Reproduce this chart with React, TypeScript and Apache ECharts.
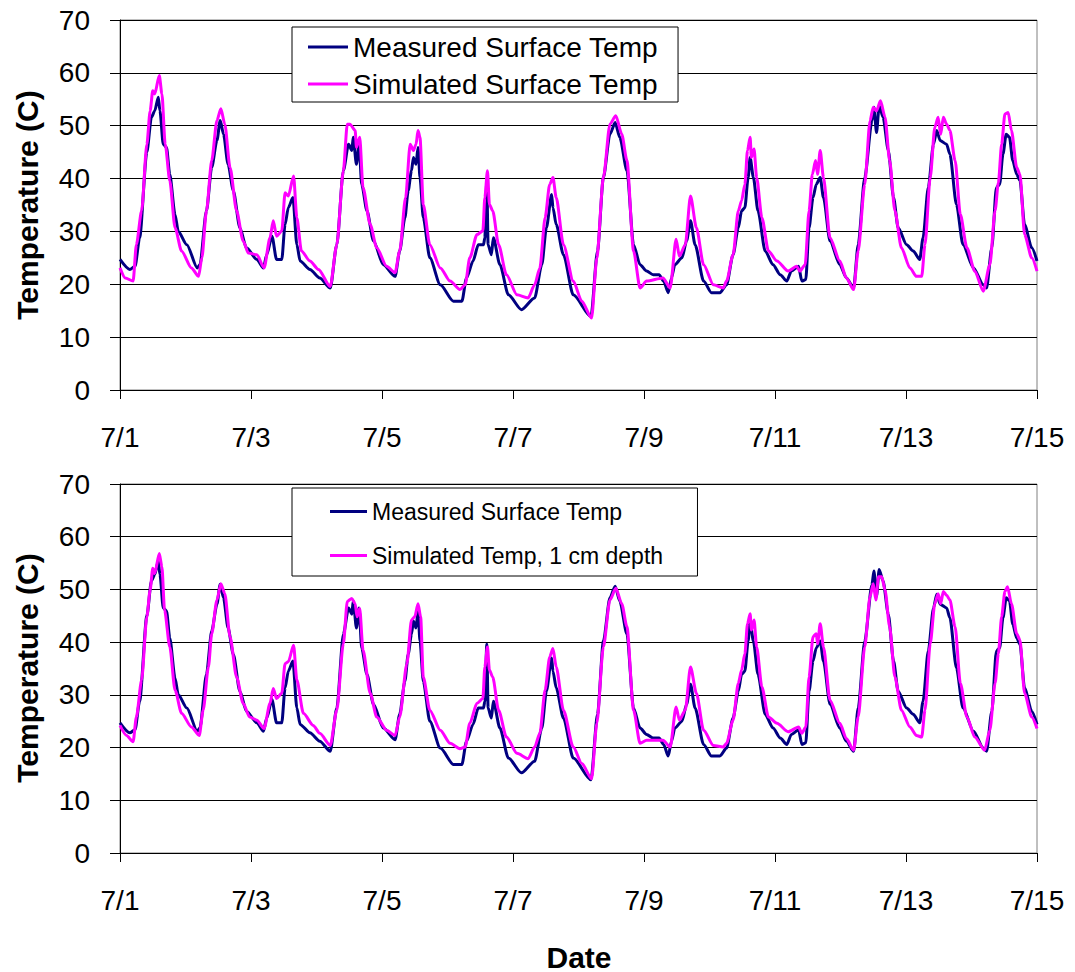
import React, { useEffect, useRef } from "react";
import * as echarts from "echarts";

// x = days since 7/1, y = temperature (C)
const measured: [number, number][] = [
  [0, 24.7], [0.15, 22.8], [0.23, 23.4], [0.3, 28.8], [0.41, 45], [0.48, 51.6], [0.53, 52.8], [0.585, 55.4], [0.61, 52.8], [0.66, 46.5], [0.71, 45.9], [0.76, 40.8], [0.84, 33.2], [0.89, 30], [1.02, 27.5], [1.18, 23.1], [1.22, 23.7], [1.32, 33.9], [1.4, 42.1], [1.48, 47.2], [1.53, 51], [1.58, 48.4], [1.65, 42.7], [1.73, 37.7], [1.83, 30.7], [1.93, 26.9], [2.09, 24.7], [2.19, 23.1], [2.24, 25.6], [2.32, 29.1], [2.39, 24.7], [2.47, 24.7], [2.52, 31.3], [2.57, 34.5], [2.64, 36.4], [2.7, 27.5], [2.75, 24.4], [2.9, 22.8], [3.05, 21.2], [3.21, 19.3], [3.31, 27.5], [3.41, 41.5], [3.49, 46.5], [3.54, 45.3], [3.56, 47.8], [3.61, 42.7], [3.65, 46.5], [3.69, 38.9], [3.77, 33.9], [3.87, 28.2], [4.02, 23.7], [4.2, 21.5], [4.27, 26.3], [4.35, 32.6], [4.4, 37.7], [4.45, 41.5], [4.48, 44], [4.52, 42.7], [4.55, 45.9], [4.58, 40.2], [4.63, 32.6], [4.73, 25], [4.89, 19.9], [5.09, 16.8], [5.22, 16.8], [5.29, 21.2], [5.39, 24.4], [5.47, 27.5], [5.55, 27.5], [5.57, 28.8], [5.6, 39.6], [5.62, 27.5], [5.67, 25.6], [5.7, 28.8], [5.8, 23.7], [5.93, 18], [6.13, 15.2], [6.33, 17.4], [6.44, 23.7], [6.51, 30.7], [6.59, 37], [6.61, 34.5], [6.66, 31.3], [6.77, 25.6], [6.92, 18], [7.19, 13.9], [7.29, 26.3], [7.38, 40.2], [7.48, 48.4], [7.56, 50.6], [7.63, 47.8], [7.74, 41.5], [7.84, 27.5], [7.94, 23.7], [8.04, 22.5], [8.14, 21.8], [8.23, 21.8], [8.3, 20.6], [8.37, 18.4], [8.42, 21.2], [8.47, 23.7], [8.58, 25], [8.65, 28.2], [8.71, 32], [8.78, 27.5], [8.91, 20.6], [9.03, 18.4], [9.16, 18.4], [9.26, 19.9], [9.36, 25.6], [9.44, 30.7], [9.49, 33.9], [9.54, 34.5], [9.59, 40.2], [9.62, 44], [9.67, 40.2], [9.74, 33.9], [9.85, 26.3], [9.97, 23.7], [10.08, 21.8], [10.18, 20.6], [10.25, 22.5], [10.36, 23.4], [10.41, 20.6], [10.47, 20.9], [10.52, 30.7], [10.58, 36.4], [10.63, 38.9], [10.69, 40.2], [10.74, 36.4], [10.84, 28.2], [10.99, 23.7], [11.09, 21.2], [11.2, 19.3], [11.27, 27.5], [11.37, 40.2], [11.48, 50.9], [11.51, 53.5], [11.55, 48.7], [11.59, 53.8], [11.65, 51.6], [11.73, 45.3], [11.81, 36.4], [11.88, 30.7], [12.01, 27.5], [12.11, 26.3], [12.21, 24.7], [12.26, 28.8], [12.34, 38.3], [12.42, 46.5], [12.47, 49.1], [12.52, 47.2], [12.62, 46.5], [12.67, 44.6], [12.77, 35.1], [12.87, 27.5], [13.03, 23.1], [13.18, 19.9], [13.23, 19.3], [13.31, 26.9], [13.38, 38.3], [13.43, 38.9], [13.48, 44.6], [13.53, 48.4], [13.58, 47.8], [13.63, 43.4], [13.69, 40.8], [13.74, 39.6], [13.81, 31.3], [13.92, 26.9], [14.0, 24.4],
];

const simulatedSurface: [number, number][] = [
  [0, 23.1], [0.08, 21.2], [0.2, 20.6], [0.25, 27.5], [0.33, 33.9], [0.41, 46.5], [0.46, 52.8], [0.5, 56.6], [0.53, 56], [0.6, 59.5], [0.64, 56], [0.69, 46.5], [0.76, 39.6], [0.84, 30.7], [0.94, 26.3], [1.09, 23.1], [1.2, 21.5], [1.25, 25], [1.32, 33.9], [1.4, 43.4], [1.48, 51], [1.54, 53.2], [1.6, 50.3], [1.68, 42.1], [1.78, 33.9], [1.88, 28.2], [1.96, 25.9], [2.09, 25.6], [2.2, 23.1], [2.29, 28.8], [2.34, 32], [2.39, 29.1], [2.47, 30.1], [2.52, 37.3], [2.57, 36.7], [2.65, 40.5], [2.7, 32.6], [2.77, 26.3], [2.9, 24.4], [3.03, 22.8], [3.21, 19.6], [3.31, 27.5], [3.41, 41.5], [3.47, 50.3], [3.51, 50.3], [3.59, 49.1], [3.61, 45.9], [3.66, 47.8], [3.71, 38.3], [3.82, 31.3], [3.92, 26.9], [4.07, 23.4], [4.2, 22.2], [4.27, 26.3], [4.36, 36.4], [4.43, 46.5], [4.48, 45.3], [4.52, 46.5], [4.55, 49.1], [4.58, 47.8], [4.63, 35.1], [4.73, 27.5], [4.89, 23.1], [5.04, 20.6], [5.19, 19], [5.27, 19.9], [5.34, 25], [5.45, 29.4], [5.54, 30.1], [5.57, 36.4], [5.61, 41.5], [5.64, 35.1], [5.69, 33.9], [5.78, 27.5], [5.9, 21.8], [6.06, 18], [6.23, 17.4], [6.33, 19.9], [6.41, 23.1], [6.49, 32.6], [6.56, 38.9], [6.61, 40.2], [6.66, 36.4], [6.77, 27.5], [6.92, 20.6], [7.05, 16.8], [7.2, 13.6], [7.28, 25], [7.38, 40.2], [7.48, 50.3], [7.57, 51.9], [7.66, 48.4], [7.74, 43.4], [7.84, 26.3], [7.94, 19.3], [8.04, 20.6], [8.29, 21.2], [8.4, 19.3], [8.49, 28.5], [8.54, 25.3], [8.63, 27.5], [8.71, 36.7], [8.8, 30.7], [8.91, 23.7], [9.06, 19.9], [9.21, 19.3], [9.26, 20.6], [9.36, 25.6], [9.44, 33.9], [9.49, 35.8], [9.54, 38.9], [9.58, 45.3], [9.62, 47.8], [9.64, 44], [9.68, 45.6], [9.72, 40.2], [9.8, 32.6], [9.9, 26.3], [10.03, 24.4], [10.2, 22.5], [10.33, 23.4], [10.38, 22.5], [10.46, 23.7], [10.52, 33.9], [10.57, 40.8], [10.62, 43.4], [10.65, 40.8], [10.69, 45.3], [10.74, 40.2], [10.84, 28.8], [10.99, 24.4], [11.09, 21.2], [11.2, 19], [11.27, 26.3], [11.37, 38.9], [11.45, 50.9], [11.5, 53.5], [11.55, 52.8], [11.61, 54.7], [11.68, 51.6], [11.75, 43.4], [11.83, 33.9], [11.93, 26.9], [12.06, 23.1], [12.16, 21.5], [12.24, 21.5], [12.29, 27.5], [12.37, 40.2], [12.44, 49.7], [12.49, 51.6], [12.53, 48.4], [12.57, 51.6], [12.62, 50.3], [12.67, 49.1], [12.75, 43.4], [12.83, 33.2], [12.93, 26.9], [13.05, 22.5], [13.18, 18.7], [13.28, 23.7], [13.36, 33.9], [13.41, 39.2], [13.46, 46.5], [13.51, 52.2], [13.56, 52.5], [13.61, 49.1], [13.69, 42.1], [13.74, 40.8], [13.81, 29.4], [13.92, 25], [14.0, 22.5],
];

const simulated1cm: [number, number][] = [
  [0, 24.2], [0.1, 22.3], [0.2, 21.1], [0.25, 25.8], [0.33, 32.8], [0.41, 44.8], [0.46, 49.9], [0.5, 54], [0.53, 53], [0.6, 56.8], [0.64, 54.3], [0.68, 46.1], [0.76, 39.1], [0.84, 30.9], [0.94, 26.5], [1.09, 23.9], [1.21, 22.3], [1.27, 27.1], [1.35, 35.3], [1.4, 41.6], [1.48, 48], [1.54, 51.1], [1.6, 49.2], [1.68, 41], [1.78, 33.4], [1.88, 28.4], [1.98, 25.8], [2.09, 25.2], [2.2, 23.6], [2.29, 28.4], [2.34, 31.2], [2.39, 29.3], [2.47, 30.3], [2.52, 35.9], [2.57, 36.3], [2.65, 39.4], [2.7, 32.8], [2.8, 26.5], [2.95, 24.2], [3.05, 22.7], [3.21, 20.4], [3.31, 27.1], [3.41, 39.7], [3.47, 47.7], [3.54, 48.3], [3.59, 47.3], [3.62, 44.8], [3.66, 46.4], [3.71, 38.5], [3.82, 30.3], [3.92, 25.8], [4.07, 23.3], [4.2, 22.3], [4.27, 25.8], [4.38, 35.9], [4.45, 44.2], [4.5, 44.8], [4.55, 47.3], [4.59, 44.8], [4.63, 33.4], [4.73, 27.1], [4.89, 23.3], [5.04, 20.8], [5.19, 19.8], [5.27, 20.1], [5.34, 24.6], [5.45, 28.4], [5.54, 29.3], [5.57, 35.3], [5.61, 39.1], [5.64, 34.7], [5.69, 33.4], [5.78, 27.1], [5.9, 22], [6.06, 18.9], [6.23, 17.9], [6.33, 20.1], [6.41, 22.7], [6.49, 30.9], [6.56, 37.2], [6.61, 38.8], [6.66, 35.3], [6.77, 27.1], [6.92, 20.1], [7.05, 17], [7.2, 14.1], [7.28, 24.6], [7.38, 39.1], [7.48, 48], [7.57, 50.2], [7.66, 47.3], [7.74, 42.9], [7.84, 27.1], [7.94, 20.8], [8.04, 21.4], [8.29, 21.4], [8.4, 20.1], [8.49, 27.7], [8.54, 25.2], [8.63, 27.1], [8.71, 35.3], [8.8, 30.3], [8.91, 23.3], [9.06, 20.4], [9.21, 20.1], [9.26, 20.8], [9.36, 25.2], [9.44, 32.2], [9.49, 34.7], [9.54, 37.8], [9.58, 43.5], [9.62, 45.4], [9.64, 42.3], [9.68, 44.2], [9.72, 39.1], [9.8, 31.5], [9.9, 25.8], [10.03, 24.6], [10.2, 23], [10.36, 23.9], [10.41, 22.7], [10.47, 23.9], [10.52, 33.4], [10.58, 41], [10.63, 41.6], [10.65, 39.7], [10.69, 43.5], [10.74, 39.1], [10.84, 29], [10.99, 24.6], [11.09, 21.7], [11.2, 19.5], [11.27, 25.8], [11.37, 39.1], [11.45, 48.6], [11.5, 51.1], [11.54, 48], [11.58, 52.4], [11.63, 52.4], [11.68, 49.9], [11.75, 42.9], [11.83, 33.4], [11.93, 27.1], [12.06, 23.9], [12.16, 22.3], [12.24, 22], [12.29, 27.1], [12.37, 39.7], [12.44, 47.3], [12.49, 49.2], [12.53, 47.3], [12.57, 49.6], [12.62, 48.9], [12.67, 48], [12.75, 42.9], [12.83, 32.2], [12.93, 25.8], [13.05, 22], [13.2, 19.5], [13.28, 23.3], [13.36, 32.2], [13.41, 37.8], [13.46, 44.8], [13.51, 49.6], [13.55, 50.5], [13.61, 47.3], [13.69, 41.6], [13.74, 40.4], [13.81, 30.3], [13.92, 25.8], [14.0, 23.6],
];

const dateLabels: string[] = ["7/1", "7/3", "7/5", "7/7", "7/9", "7/11", "7/13", "7/15"];
const seriesNames = {
  measured: "Measured Surface Temp",
  surface: "Simulated Surface Temp",
  depth: "Simulated Temp, 1 cm depth",
};

const FONT = "'Liberation Sans', Arial, Helvetica, sans-serif";
const NAVY = "#000080";
const MAGENTA = "#FF00FF";

function xAxisCfg(gridIndex: number) {
  return {
    type: "value" as const,
    gridIndex,
    min: 0,
    max: 14,
    interval: 2,
    axisLine: { show: true, onZero: false, lineStyle: { color: "#000", width: 1 } },
    axisTick: { show: true, length: 9, lineStyle: { color: "#000", width: 1 } },
    axisLabel: {
      fontSize: 28,
      color: "#000",
      fontFamily: FONT,
      margin: 33,
      showMinLabel: true,
      showMaxLabel: true,
      formatter: (v: number) => dateLabels[Math.round(v / 2)] ?? "",
    },
    splitLine: { show: false },
  };
}

function yAxisCfg(gridIndex: number) {
  return {
    type: "value" as const,
    gridIndex,
    min: 0,
    max: 70,
    interval: 10,
    axisLine: { show: true, lineStyle: { color: "#000", width: 1 } },
    axisTick: { show: true, length: 10, lineStyle: { color: "#000", width: 1 } },
    axisLabel: { fontSize: 28, color: "#000", fontFamily: FONT, margin: 30 },
    splitLine: { show: true, lineStyle: { color: "#000", width: 1 } },
  };
}

export default function App() {
  const ref = useRef<HTMLDivElement>(null);

  useEffect(() => {
    if (!ref.current) return;
    const chart = echarts.init(ref.current, undefined, { renderer: "svg" });
    const lineBase = { type: "line" as const, symbol: "none", showSymbol: false, smooth: 0.25, smoothMonotone: "x" as const };
    chart.setOption({
      animation: false,
      backgroundColor: "#fff",
      grid: [
        { left: 120, top: 20, width: 917, height: 370, show: true, borderColor: "#808080", borderWidth: 1, backgroundColor: "transparent" },
        { left: 120, top: 484, width: 917, height: 369, show: true, borderColor: "#808080", borderWidth: 1, backgroundColor: "transparent" },
      ],
      xAxis: [xAxisCfg(0), xAxisCfg(1)],
      yAxis: [yAxisCfg(0), yAxisCfg(1)],
      legend: [
        {
          left: 292,
          top: 27,
          orient: "vertical",
          data: [seriesNames.measured, seriesNames.surface],
          icon: "rect",
          itemWidth: 40,
          itemHeight: 3,
          itemGap: 9,
          padding: [6, 20, 4, 16],
          borderColor: "#000",
          borderWidth: 1,
          backgroundColor: "#fff",
          selectedMode: false,
          textStyle: { fontSize: 28, color: "#000", fontFamily: FONT },
        },
        {
          left: 292,
          top: 488,
          orient: "vertical",
          data: [seriesNames.measured, seriesNames.depth],
          icon: "rect",
          itemWidth: 37,
          itemHeight: 3,
          itemGap: 21,
          padding: [12, 34, 9, 38],
          borderColor: "#000",
          borderWidth: 1,
          backgroundColor: "#fff",
          selectedMode: false,
          textStyle: { fontSize: 23, color: "#000", fontFamily: FONT },
        },
      ],
      graphic: [
        {
          type: "text",
          x: 27,
          y: 205,
          rotation: Math.PI / 2,
          style: { text: "Temperature (C)", font: `bold 30px ${FONT}`, fill: "#000", align: "center", verticalAlign: "middle" },
        },
        {
          type: "text",
          x: 27,
          y: 668,
          rotation: Math.PI / 2,
          style: { text: "Temperature (C)", font: `bold 30px ${FONT}`, fill: "#000", align: "center", verticalAlign: "middle" },
        },
        {
          type: "text",
          x: 579,
          y: 957,
          style: { text: "Date", font: `bold 30px ${FONT}`, fill: "#000", align: "center", verticalAlign: "middle" },
        },
      ],
      series: [
        { ...lineBase, name: seriesNames.measured, xAxisIndex: 0, yAxisIndex: 0, data: measured, lineStyle: { color: NAVY, width: 3 }, itemStyle: { color: NAVY } },
        { ...lineBase, name: seriesNames.surface, xAxisIndex: 0, yAxisIndex: 0, data: simulatedSurface, lineStyle: { color: MAGENTA, width: 3 }, itemStyle: { color: MAGENTA } },
        { ...lineBase, name: seriesNames.measured, xAxisIndex: 1, yAxisIndex: 1, data: measured, lineStyle: { color: NAVY, width: 3 }, itemStyle: { color: NAVY } },
        { ...lineBase, name: seriesNames.depth, xAxisIndex: 1, yAxisIndex: 1, data: simulated1cm, lineStyle: { color: MAGENTA, width: 3 }, itemStyle: { color: MAGENTA } },
      ],
    });
    return () => chart.dispose();
  }, []);

  return <div ref={ref} style={{ position: "fixed", left: 0, top: 0, width: 1075, height: 972 }} />;
}
